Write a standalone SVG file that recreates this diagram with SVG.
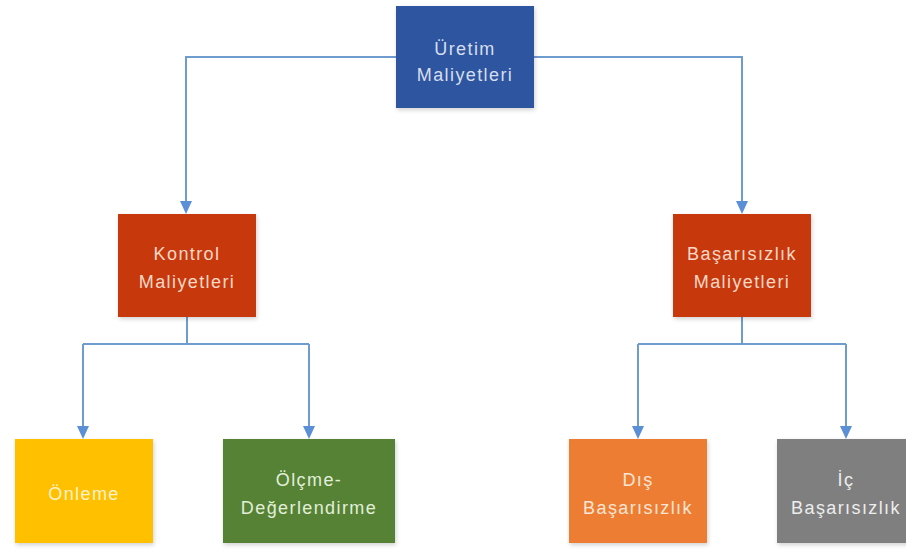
<svg xmlns="http://www.w3.org/2000/svg" width="906" height="554" viewBox="0 0 906 554">
<style>
.box{filter:url(#sh);}
.t{font-family:"Liberation Sans",Arial,sans-serif;font-size:18px;letter-spacing:1.4px;text-anchor:middle;}
.c{fill:none;stroke:#6E9CCF;stroke-width:2;}
</style>
<defs>
<filter id="sh" x="-10%" y="-10%" width="120%" height="125%">
<feDropShadow dx="1" dy="2" stdDeviation="2" flood-color="#000" flood-opacity="0.18"/>
</filter>
<marker id="ah" viewBox="0 0 12 12" markerWidth="12" markerHeight="12" refX="6" refY="12" orient="auto-start-reverse" markerUnits="userSpaceOnUse">
<path d="M0,0 L12,0 L6,12 Z" fill="#5B8FD6" transform="rotate(-90 6 6)"/>
</marker>
</defs>
<rect width="906" height="554" fill="#ffffff"/>
<g id="connectors">
<path class="c" d="M396,57 H186 V202"/>
<path class="c" d="M534,57 H742 V202"/>
<path class="c" d="M187,317 V344"/>
<path class="c" d="M83,344 H309"/>
<path class="c" d="M83,344 V427"/>
<path class="c" d="M309,344 V427"/>
<path class="c" d="M742,317 V344"/>
<path class="c" d="M638,344 H846"/>
<path class="c" d="M638,344 V427"/>
<path class="c" d="M846,344 V427"/>
<g fill="#5B8FD6">
<path d="M180,201 H192 L186,214 Z"/>
<path d="M736,201 H748 L742,214 Z"/>
<path d="M77,426 H89 L83,439 Z"/>
<path d="M303,426 H315 L309,439 Z"/>
<path d="M632,426 H644 L638,439 Z"/>
<path d="M840,426 H852 L846,439 Z"/>
</g>
</g>
<g id="uretim">
<rect class="box" x="396" y="6" width="138" height="102" fill="#2F56A0"/>
<text class="t" fill="#D6DEEE" x="465" y="55">Üretim</text>
<text class="t" fill="#D6DEEE" x="465" y="81">Maliyetleri</text>
</g>
<g id="kontrol">
<rect class="box" x="118" y="214" width="138" height="103" fill="#C8370B"/>
<text class="t" fill="#F8D9C6" x="187" y="260">Kontrol</text>
<text class="t" fill="#F8D9C6" x="187" y="288">Maliyetleri</text>
</g>
<g id="basarisizlik">
<rect class="box" x="673" y="214" width="138" height="103" fill="#C8370B"/>
<text class="t" fill="#F8D9C6" x="742" y="260">Başarısızlık</text>
<text class="t" fill="#F8D9C6" x="742" y="288">Maliyetleri</text>
</g>
<g id="onleme">
<rect class="box" x="15" y="439" width="138" height="104" fill="#FFC000"/>
<text class="t" fill="#FFF2CC" x="84" y="500">Önleme</text>
</g>
<g id="olcme">
<rect class="box" x="223" y="439" width="172" height="104" fill="#548235"/>
<text class="t" fill="#E2EFD9" x="309" y="486">Ölçme-</text>
<text class="t" fill="#E2EFD9" x="309" y="514">Değerlendirme</text>
</g>
<g id="dis">
<rect class="box" x="569" y="439" width="138" height="104" fill="#ED7D31"/>
<text class="t" fill="#FBE5D6" x="638" y="486">Dış</text>
<text class="t" fill="#FBE5D6" x="638" y="514">Başarısızlık</text>
</g>
<g id="ic">
<rect class="box" x="777" y="439" width="138" height="104" fill="#7F7F7F"/>
<text class="t" fill="#EDEDED" x="846" y="486">İç</text>
<text class="t" fill="#EDEDED" x="846" y="514">Başarısızlık</text>
</g>
</svg>
